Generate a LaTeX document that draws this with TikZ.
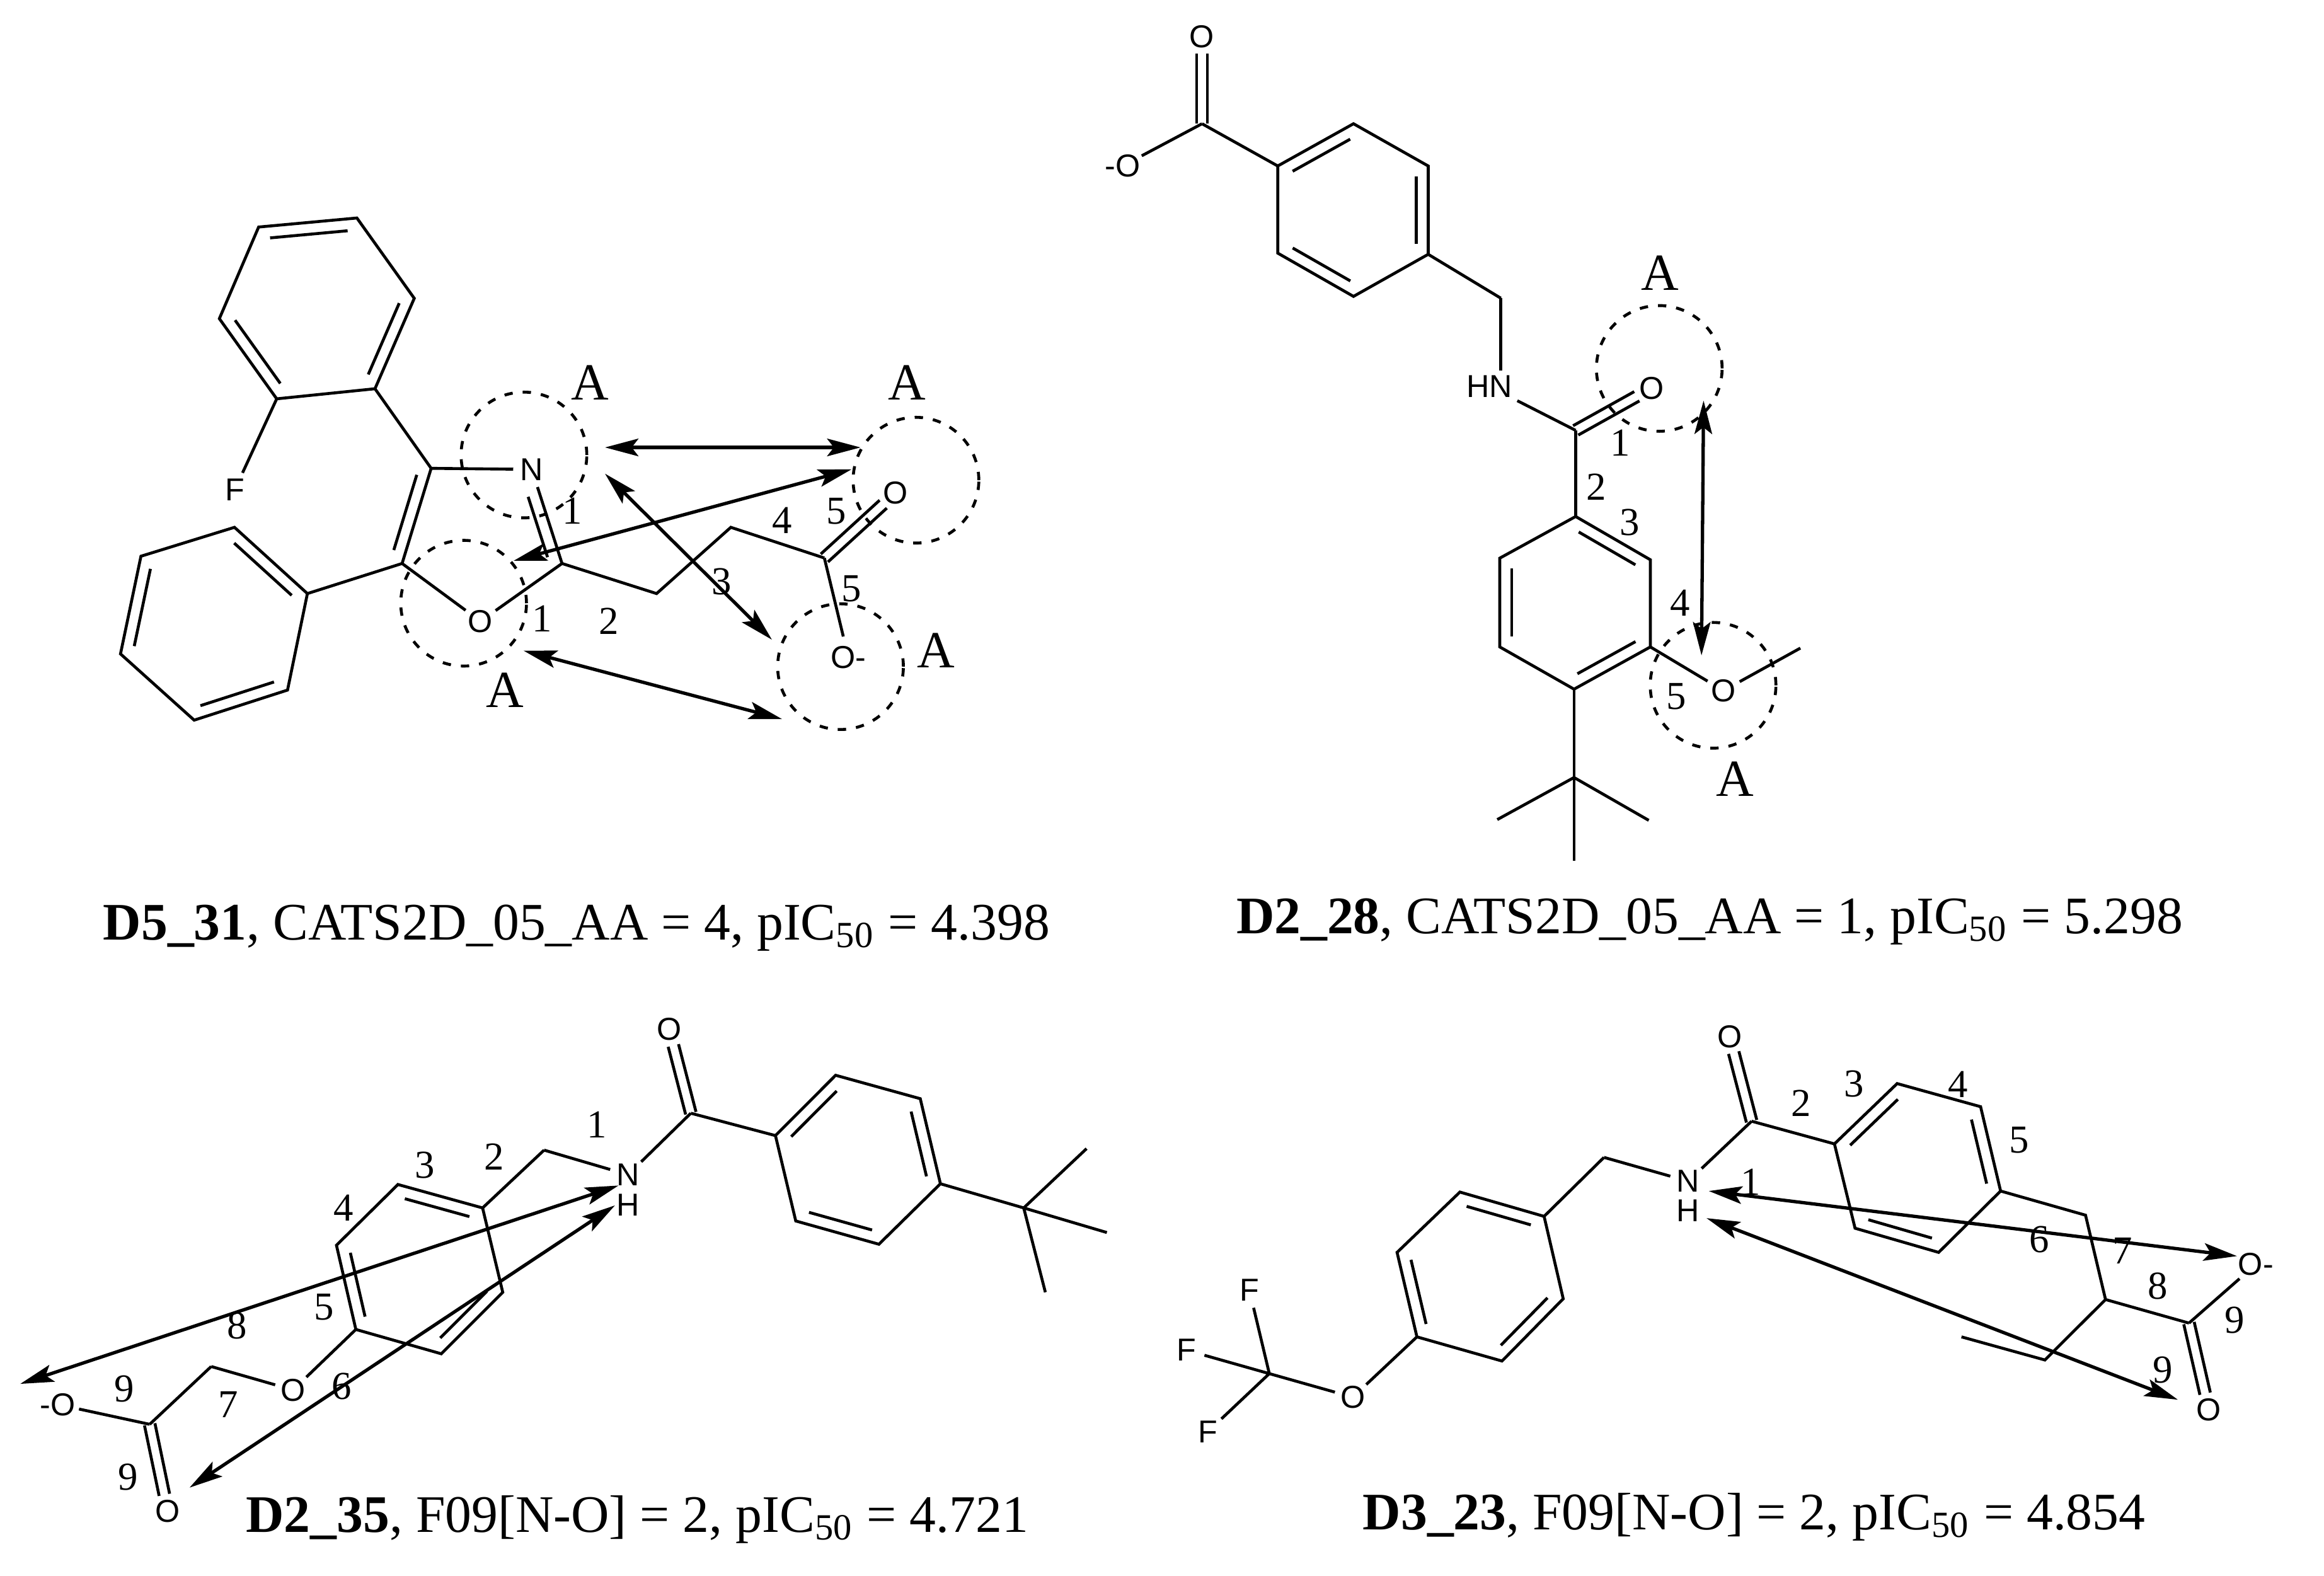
\documentclass[tikz,border=0pt]{standalone}
\usepackage{fontspec}
\setmainfont{Liberation Serif}
\newfontfamily\atomfont{Liberation Sans}
\usepackage{tikz}
\usetikzlibrary{arrows.meta,calc}

\newcommand{\innerbond}[3][2.5pt]{\draw[bond,shorten <=2.5pt,shorten >=#1] ($(#2)!0.1cm!90:(#3)$) -- ($(#3)!0.1cm!-90:(#2)$);}
\newcommand{\dblbond}[2]{\draw[bond,shorten >=4pt] ($(#1)!0.045cm!90:(#2)$) -- ($(#2)!0.045cm!-90:(#1)$);
    \draw[bond,shorten >=4pt] ($(#1)!0.045cm!-90:(#2)$) -- ($(#2)!0.045cm!90:(#1)$);}

\begin{document}
\begin{tikzpicture}[x=0.0125cm,y=-0.0125cm,>={Stealth[length=8pt,width=4.2pt,inset=1.6pt]},
        bond/.style={line width=0.7pt},
        arrow line/.style={<->,line width=0.8pt},
        atom node/.style={circle,inner sep=0pt,minimum size=8.5pt,font=\atomfont\fontsize{7.6}{9}\selectfont},
        wide node/.style={rectangle,inner sep=1pt,font=\atomfont\fontsize{7.6}{9}\selectfont},
        site node/.style={circle,draw,line width=0.7pt,dash pattern=on 2pt off 2.4pt,minimum size=1.06cm,inner sep=0pt},
        site label/.style={inner sep=0pt,font=\fontsize{12.5}{15}\selectfont},
        num node/.style={inner sep=0pt,font=\fontsize{9.5}{11}\selectfont},
        caption node/.style={anchor=base,inner sep=0pt,font=\fontsize{12.65}{15}\selectfont}]

    \path[use as bounding box,fill=white] (0,0) rectangle (1568,1063.3);

    % D5_31
    \coordinate (aF1) at (240.8,147.1);
    \coordinate (aF2) at (174.5,153.2);
    \coordinate (aF3) at (148,215);
    \coordinate (aF4) at (186.7,269.1);
    \coordinate (aF5) at (253,262.3);
    \coordinate (aF6) at (279.5,201.3);
    \coordinate (aP1) at (207.4,400.5);
    \coordinate (aP2) at (158.2,355.8);
    \coordinate (aP3) at (95.1,375.3);
    \coordinate (aP4) at (81.3,441.2);
    \coordinate (aP5) at (131,485.9);
    \coordinate (aP6) at (194,465.6);
    \coordinate (aC4) at (290.9,316);
    \coordinate (aC5) at (271.3,380.2);
    \coordinate (aC2) at (379.2,380.2);
    \coordinate (aCa) at (443,400.5);
    \coordinate (aCb) at (493.1,355.8);
    \coordinate (aCc) at (556.2,376.5);
    \node[atom node] (aF) at (158.4,330.4) {F};
    \node[atom node] (aN) at (358.8,316.7) {N};
    \node[atom node] (aO) at (324.2,419.2) {O};
    \node[atom node] (aOd) at (604.2,332.6) {O};
    \node[atom node] (aOm) at (572.4,443.7) {O-};

    \draw[bond] (aF1) -- (aF2) -- (aF3) -- (aF4) -- (aF5) -- (aF6) -- cycle;
    \innerbond{aF1}{aF2}
    \innerbond{aF3}{aF4}
    \innerbond{aF5}{aF6}
    \draw[bond] (aP1) -- (aP2) -- (aP3) -- (aP4) -- (aP5) -- (aP6) -- cycle;
    \innerbond{aP1}{aP2}
    \innerbond{aP3}{aP4}
    \innerbond{aP5}{aP6}
    \path[bond]
    (aF4) edge (aF)
    (aF5) edge (aC4)
    (aC4) edge (aC5)
    (aC4) edge (aN)
    (aN) edge (aC2)
    (aC5) edge (aP1)
    (aC5) edge (aO)
    (aC2) edge (aO)
    (aCc) edge (aOm);
    \draw[bond] (aC2) -- (aCa) -- (aCb) -- (aCc);
    \innerbond{aC5}{aC4}
    \innerbond[6pt]{aC2}{aN}
    \dblbond{aCc}{aOd}

    \node[site node] (aS1) at (353.5,307) {};
    \node[site node] (aS2) at (618,324) {};
    \node[site node] (aS3) at (312.8,407) {};
    \node[site node] (aS4) at (567.1,449.8) {};
    \node[site label] (aA1) at (398.3,258.1) {A};
    \node[site label] (aA2) at (611.9,258.1) {A};
    \node[site label] (aA3) at (631.4,438.8) {A};
    \node[site label] (aA4) at (340.5,465.6) {A};
    \node[num node] (an1) at (386,344.8) {1};
    \node[num node] (an2) at (564.3,344.8) {5};
    \node[num node] (an3) at (527.7,351) {4};
    \node[num node] (an4) at (487,392.4) {3};
    \node[num node] (an5) at (574.5,397.3) {5};
    \node[num node] (an6) at (365.7,417.5) {1};
    \node[num node] (an7) at (410.9,419.2) {2};

    \coordinate (aw1) at (408.2,301.9);
    \coordinate (aw2) at (580.6,301.9);
    \coordinate (aw3) at (574.5,316.7);
    \coordinate (aw4) at (346.5,378.4);
    \coordinate (aw5) at (408.2,319.6);
    \coordinate (aw6) at (520.8,431.6);
    \coordinate (aw7) at (353.2,439);
    \coordinate (aw8) at (527.7,485.2);
    \draw[arrow line] (aw1) -- (aw2);
    \draw[arrow line] (aw3) -- (aw4);
    \draw[arrow line] (aw5) -- (aw6);
    \draw[arrow line] (aw7) -- (aw8);

    \node[caption node] (acap) at (389,634) {\textbf{D5\_31}, CATS2D\_05\_AA = 4, pIC\textsubscript{50} = 4.398};

    % D2_28
    \node[atom node] (bOt) at (811,24.7) {O};
    \coordinate (bC) at (811,83.5);
    \node[atom node] (bOm) at (757.4,112) {-O};
    \coordinate (bR1) at (862.1,112);
    \coordinate (bR2) at (913.2,83.5);
    \coordinate (bR3) at (963.6,112);
    \coordinate (bR4) at (963.6,171.6);
    \coordinate (bR5) at (913.2,200);
    \coordinate (bR6) at (862.1,170.8);
    \coordinate (bCh) at (1012.6,201.2);
    \node[wide node] (bHN) at (1004.9,260.8) {HN};
    \coordinate (bCo) at (1063.1,290.4);
    \node[atom node] (bOd) at (1114.2,261.9) {O};
    \coordinate (bS1) at (1063.1,348.5);
    \coordinate (bS2) at (1113.5,377.7);
    \coordinate (bS3) at (1113.5,436.5);
    \coordinate (bS4) at (1062,465);
    \coordinate (bS5) at (1011.9,436.5);
    \coordinate (bS6) at (1011.9,376.6);
    \coordinate (bT) at (1062,524.6);
    \coordinate (bT1) at (1010.2,553);
    \coordinate (bT2) at (1112.4,553.5);
    \coordinate (bT3) at (1062,580.8);
    \node[atom node] (bOe) at (1162.8,466) {O};
    \coordinate (bMe) at (1214.7,437.3);

    \dblbond{bC}{bOt}
    \draw[bond] (bR1) -- (bR2) -- (bR3) -- (bR4) -- (bR5) -- (bR6) -- cycle;
    \innerbond{bR2}{bR1}
    \innerbond{bR6}{bR5}
    \innerbond{bR4}{bR3}
    \draw[bond] (bS1) -- (bS2) -- (bS3) -- (bS4) -- (bS5) -- (bS6) -- cycle;
    \innerbond{bS2}{bS1}
    \innerbond{bS4}{bS3}
    \innerbond{bS6}{bS5}
    \path[bond]
    (bC) edge (bOm)
    (bC) edge (bR1)
    (bR4) edge (bCh)
    (bHN) edge (bCo)
    (bCo) edge (bS1)
    (bS4) edge (bT)
    (bT) edge (bT1)
    (bT) edge (bT2)
    (bT) edge (bT3)
    (bS3) edge (bOe)
    (bOe) edge (bMe);
    \draw[bond] (bCh) -- (bCh |- bHN.north);
    \dblbond{bCo}{bOd}

    \node[site node] (bS7) at (1119.5,248.6) {};
    \node[site node] (bS8) at (1155.8,462.4) {};
    \node[site label] (bA1) at (1120.2,184.1) {A};
    \node[site label] (bA2) at (1170.6,525.7) {A};
    \node[num node] (bn1) at (1093,298.8) {1};
    \node[num node] (bn2) at (1077.2,328.4) {2};
    \node[num node] (bn3) at (1099.4,352.3) {3};
    \node[num node] (bn4) at (1133.6,406.9) {4};
    \node[num node] (bn5) at (1131.1,470) {5};

    \coordinate (bw1) at (1149.4,270.3);
    \coordinate (bw2) at (1148,442.2);
    \draw[arrow line] (bw1) -- (bw2);

    \node[caption node] (bcap) at (1153.5,630) {\textbf{D2\_28}, CATS2D\_05\_AA = 1, pIC\textsubscript{50} = 5.298};

    % D2_35
    \node[atom node] (cOt) at (451.5,694.5) {O};
    \coordinate (cC) at (466.1,751.1);
    \coordinate (cQ1) at (523.2,766.2);
    \coordinate (cQ2) at (563.8,725.5);
    \coordinate (cQ3) at (620.9,741.3);
    \coordinate (cQ4) at (634.5,798.7);
    \coordinate (cQ5) at (593,839.5);
    \coordinate (cQ6) at (536.9,823.8);
    \coordinate (cT) at (690.7,815);
    \coordinate (cT1) at (733.1,775);
    \coordinate (cT2) at (746.8,831.6);
    \coordinate (cT3) at (705.3,871.9);
    \node[atom node] (cN) at (423.7,792.6) {N};
    \node[atom node] (cH) at (423.7,812.9) {H};
    \coordinate (cCh) at (367.1,776);
    \coordinate (cS1) at (325.6,815);
    \coordinate (cS2) at (268.5,799.2);
    \coordinate (cS3) at (227,840.2);
    \coordinate (cS4) at (240.1,897);
    \coordinate (cS5) at (297.7,913.4);
    \coordinate (cS6) at (339.2,871.9);
    \node[atom node] (cOe) at (197.7,937.8) {O};
    \coordinate (cCa) at (142.5,922);
    \coordinate (cCb) at (101,961);
    \node[atom node] (cOm) at (39,947.6) {-O};
    \node[atom node] (cOd) at (113.2,1019.6) {O};

    \dblbond{cC}{cOt}
    \draw[bond] (cQ1) -- (cQ2) -- (cQ3) -- (cQ4) -- (cQ5) -- (cQ6) -- cycle;
    \innerbond{cQ2}{cQ1}
    \innerbond{cQ4}{cQ3}
    \innerbond{cQ6}{cQ5}
    \draw[bond] (cS1) -- (cS2) -- (cS3) -- (cS4) -- (cS5) -- (cS6) -- cycle;
    \innerbond{cS1}{cS2}
    \innerbond{cS3}{cS4}
    \innerbond{cS5}{cS6}
    \path[bond]
    (cC) edge (cQ1)
    (cC) edge (cN)
    (cQ4) edge (cT)
    (cT) edge (cT1)
    (cT) edge (cT2)
    (cT) edge (cT3)
    (cN) edge (cCh)
    (cCh) edge (cS1)
    (cS4) edge (cOe)
    (cOe) edge (cCa)
    (cCa) edge (cCb)
    (cCb) edge (cOm);
    \dblbond{cCb}{cOd}

    \node[num node] (cn1) at (402.7,758.9) {1};
    \node[num node] (cn2) at (333.4,780.4) {2};
    \node[num node] (cn3) at (286.5,786) {3};
    \node[num node] (cn4) at (231.8,815) {4};
    \node[num node] (cn5) at (218.7,881.7) {5};
    \node[num node] (cn6) at (230.4,935.4) {6};
    \node[num node] (cn7) at (153.8,947.6) {7};
    \node[num node] (cn8) at (160.1,894.6) {8};
    \node[num node] (cn9) at (84,937.1) {9};
    \node[num node] (cn10) at (86.4,996.4) {9};

    \coordinate (cw1) at (417.3,799.9);
    \coordinate (cw2) at (13.7,933.7);
    \coordinate (cw3) at (414.9,813.3);
    \coordinate (cw4) at (127.9,1003.7);
    \draw[arrow line] (cw1) -- (cw2);
    \draw[arrow line] (cw3) -- (cw4);

    \node[caption node] (ccap) at (430,1034) {\textbf{D2\_35}, F09[N-O] = 2, pIC\textsubscript{50} = 4.721};

    % D3_23
    \node[atom node] (dOt) at (1166.9,699.3) {O};
    \coordinate (dC) at (1181.8,756.5);
    \coordinate (dU1) at (1237.7,771.8);
    \coordinate (dU2) at (1280,731.1);
    \coordinate (dU3) at (1336.3,746.7);
    \coordinate (dU4) at (1349.8,803.6);
    \coordinate (dU5) at (1308,845);
    \coordinate (dU6) at (1251.6,828.7);
    \coordinate (dCa) at (1407.1,819.9);
    \coordinate (dCb) at (1420.6,876.8);
    \coordinate (dCc) at (1379.7,917.6);
    \coordinate (dCd) at (1323.4,902);
    \coordinate (dCo) at (1476.9,892.7);
    \node[atom node] (dOm) at (1522,853.1) {O-};
    \node[atom node] (dOd) at (1490.3,951.3) {O};
    \node[atom node] (dN) at (1139,797) {N};
    \node[atom node] (dH) at (1139,817) {H};
    \coordinate (dCh) at (1082.2,780.9);
    \coordinate (dV1) at (1041.8,820.7);
    \coordinate (dV2) at (985,804.3);
    \coordinate (dV3) at (942.6,845);
    \coordinate (dV4) at (956,902);
    \coordinate (dV5) at (1013.4,918.3);
    \coordinate (dV6) at (1054.7,876.3);
    \node[atom node] (dOe) at (912.7,942.7) {O};
    \coordinate (dCf) at (856.4,926.8);
    \node[atom node] (dF1) at (842.9,870.2) {F};
    \node[atom node] (dF2) at (800.6,911) {F};
    \node[atom node] (dF3) at (815,965.9) {F};

    \dblbond{dC}{dOt}
    \draw[bond] (dU1) -- (dU2) -- (dU3) -- (dU4) -- (dU5) -- (dU6) -- cycle;
    \innerbond{dU2}{dU1}
    \innerbond{dU4}{dU3}
    \innerbond{dU6}{dU5}
    \draw[bond] (dV1) -- (dV2) -- (dV3) -- (dV4) -- (dV5) -- (dV6) -- cycle;
    \innerbond{dV1}{dV2}
    \innerbond{dV3}{dV4}
    \innerbond{dV5}{dV6}
    \path[bond]
    (dC) edge (dU1)
    (dC) edge (dN)
    (dCb) edge (dCo)
    (dCo) edge (dOm)
    (dN) edge (dCh)
    (dCh) edge (dV1)
    (dV4) edge (dOe)
    (dOe) edge (dCf)
    (dCf) edge (dF1)
    (dCf) edge (dF2)
    (dCf) edge (dF3);
    \draw[bond] (dU4) -- (dCa) -- (dCb) -- (dCc) -- (dCd);
    \dblbond{dCo}{dOd}

    \node[num node] (dn1) at (1181.3,797.5) {1};
    \node[num node] (dn2) at (1215.2,744.3) {2};
    \node[num node] (dn3) at (1251.1,731.1) {3};
    \node[num node] (dn4) at (1320.9,731.6) {4};
    \node[num node] (dn5) at (1362.2,769.4) {5};
    \node[num node] (dn6) at (1375.7,836.5) {6};
    \node[num node] (dn7) at (1432,843.8) {7};
    \node[num node] (dn8) at (1456,867.8) {8};
    \node[num node] (dn9) at (1507.8,890.7) {9};
    \node[num node] (dn10) at (1459.4,924.4) {9};

    \coordinate (dw1) at (1152.9,803.6);
    \coordinate (dw2) at (1509.3,847.5);
    \coordinate (dw3) at (1151.4,821.9);
    \coordinate (dw4) at (1469.4,944.4);
    \draw[arrow line] (dw1) -- (dw2);
    \draw[arrow line] (dw3) -- (dw4);

    \node[caption node] (dcap) at (1183.5,1032) {\textbf{D3\_23}, F09[N-O] = 2, pIC\textsubscript{50} = 4.854};

\end{tikzpicture}
\end{document}
